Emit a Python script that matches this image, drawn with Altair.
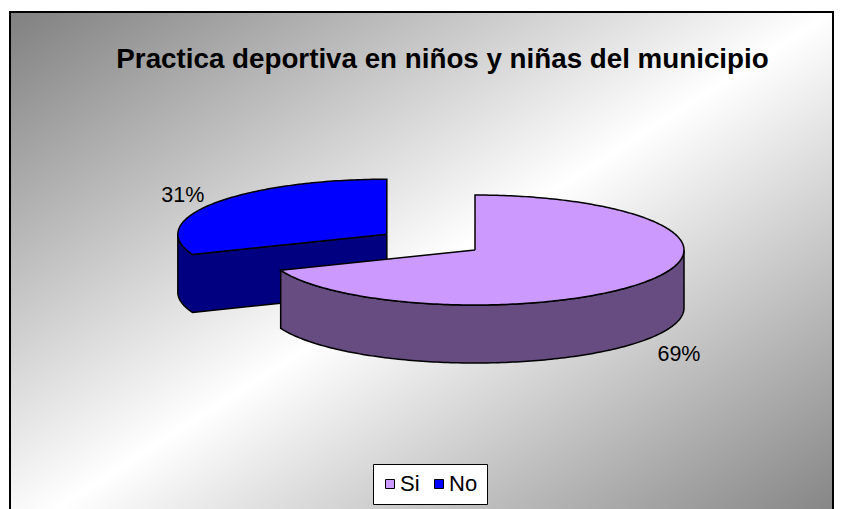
import numpy as np
import pandas as pd
import altair as alt

# ---- data ----
categories = ["Si", "No"]
values = [69, 31]
top_colors = ["#CC99FF", "#0000FF"]
side_colors = ["#664C80", "#000080"]
explode = [0.0, 0.51]
title_text = "Practica deportiva en niños y niñas del municipio"

# ---- styling geometry (page pixel units) ----
W, H = 826, 501
X0, Y0 = 8, 8
CX, CY = 475.0, 250.0
RX, RY = 209.0, 55.0
DEPTH = 58.0
LX, LY = 1.18, 1.3
LGAP = 5.0
FONT = "Liberation Sans"

total = float(sum(values))
frac = np.array(values, dtype=float) / total
ends = np.cumsum(frac) * 360.0
starts = ends - frac * 360.0


def ell(cx, cy, phi):
    r = np.radians(phi)
    return (cx + RX * np.sin(r), cy - RY * np.cos(r))


slices = []
label_rows = []
for i, cat in enumerate(categories):
    s, e = starts[i], ends[i]
    mid = (s + e) / 2.0
    mr = np.radians(mid)
    cx = CX + explode[i] * RX * np.sin(mr)
    cy = CY - explode[i] * RY * np.cos(mr)
    n = max(int(np.ceil(e - s)), 2)
    phis = np.linspace(s, e, n + 1)
    extra = [p for p in (90.0, 270.0, 450.0) if s < p < e]
    phis = np.unique(np.concatenate([phis, extra]))
    loop = [(cx, cy)] + [ell(cx, cy, p) for p in phis] + [(cx, cy)]
    top = pd.DataFrame({"cat": cat, "k": range(len(loop)),
                        "x": [p[0] for p in loop], "y": [p[1] for p in loop]})
    segs = len(loop) - 1
    front = [loop[j + 1][0] - loop[j][0] < -1e-6 for j in range(segs)]
    chain = []
    if any(front) and not all(front):
        start = next(j for j in range(segs) if front[j] and not front[j - 1])
        chain = [loop[start]]
        j = start
        while front[j % segs]:
            chain.append(loop[(j % segs) + 1])
            j += 1
    side_pts = chain + [(x, y + DEPTH) for (x, y) in reversed(chain)] + chain[:1]
    side = pd.DataFrame({"cat": cat, "k": range(len(side_pts)),
                         "x": [p[0] for p in side_pts], "y": [p[1] for p in side_pts]})
    lx = cx + LX * RX * np.sin(mr)
    ly = cy - LY * RY * np.cos(mr) + ((DEPTH + LGAP) if np.cos(mr) < 0 else 0.0)
    label_rows.append({"cat": cat, "x": lx, "y": ly + 1.5,
                       "text": f"{round(frac[i] * 100):.0f}%"})
    slices.append({"i": i, "cy": cy, "top": top, "side": side})

# paint back (smaller y) slices first
slices.sort(key=lambda d: d["cy"])

xs = alt.Scale(domain=[X0, X0 + W], nice=False, zero=False)
ys = alt.Scale(domain=[Y0 + H, Y0], nice=False, zero=False)
X = alt.X("x:Q", scale=xs, axis=None)
Y = alt.Y("y:Q", scale=ys, axis=None)

gradient = alt.LinearGradient(
    gradient="linear",
    stops=[alt.GradientStop(color="#808080", offset=0),
           alt.GradientStop(color="#ffffff", offset=0.5),
           alt.GradientStop(color="#7f7f7f", offset=1)],
    x1=0, y1=0, x2=1, y2=1,
)

bg = alt.Chart(alt.Data(values=[{"a": 1}])).mark_rect(
    fill=gradient, stroke="black", strokeWidth=2
).encode(x=alt.value(2), x2=alt.value(825), y=alt.value(4), y2=alt.value(530))

legend = alt.Legend(
    title=None, orient="none", legendX=365, legendY=456, direction="horizontal",
    symbolType="square", symbolSize=81, symbolStrokeColor="black", symbolStrokeWidth=1,
    symbolOffset=alt.ExprRef(expr="-3"),
    labelFontSize=22, labelFont=FONT, labelColor="black",
    labelOffset=alt.ExprRef(expr="-1"),
    columnPadding=11, padding=9, fillColor="white", strokeColor="black",
)
fill_scale = alt.Scale(domain=categories, range=top_colors)

layers = [bg]
for sl in slices:
    i = sl["i"]
    layers.append(
        alt.Chart(sl["side"]).mark_line(
            fill=side_colors[i], stroke="black", strokeWidth=1.5, interpolate="linear"
        ).encode(x=X, y=Y, order=alt.Order("k:Q"))
    )
    layers.append(
        alt.Chart(sl["top"]).mark_line(
            stroke="black", strokeWidth=1.5, interpolate="linear"
        ).encode(x=X, y=Y, order=alt.Order("k:Q"),
                 fill=alt.Fill("cat:N", scale=fill_scale, legend=legend))
    )

labels = alt.Chart(pd.DataFrame(label_rows)).mark_text(
    font=FONT, fontSize=21.5, color="black", align="center", baseline="middle"
).encode(x=X, y=Y, text="text:N")

title = alt.Chart(alt.Data(values=[{"t": title_text}])).mark_text(
    font=FONT, fontSize=27.75, fontWeight="bold", color="black",
    align="center", baseline="alphabetic"
).encode(text="t:N", x=alt.value(434.5), y=alt.value(60.3))

layers += [labels, title]

chart = alt.layer(*layers).properties(
    width=W, height=H, padding=0, autosize=alt.AutoSizeParams(type="none")
).configure_view(stroke=None)

chart.save("out.html", embed_options={"renderer": "svg", "actions": False})
